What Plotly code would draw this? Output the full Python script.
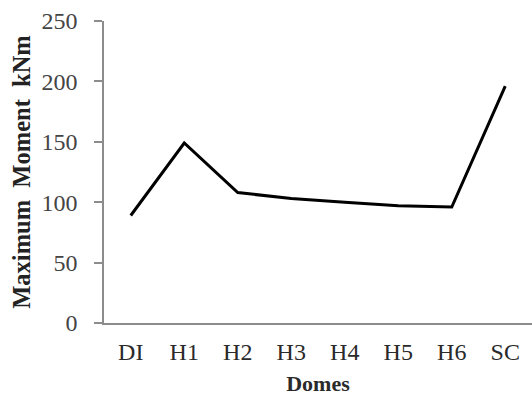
import plotly.graph_objects as go

# Maximum bending moment for each dome configuration
domes = ["DI", "H1", "H2", "H3", "H4", "H5", "H6", "SC"]
max_moment_knm = [89, 149, 108, 103, 100, 97, 96, 196]

y_ticks = [0, 50, 100, 150, 200, 250]

fig = go.Figure(
    go.Scatter(
        x=domes,
        y=max_moment_knm,
        mode="lines",
        line=dict(color="#000000", width=3),
        showlegend=False,
    )
)

font_family = "Liberation Serif"

fig.update_layout(
    width=532,
    height=396,
    margin=dict(l=104, r=0, t=21, b=73),
    paper_bgcolor="white",
    plot_bgcolor="white",
    font=dict(family=font_family, color="#333333"),
)

fig.update_xaxes(
    type="category",
    range=[-0.5, 7.5],
    showline=True,
    linecolor="#8c8c8c",
    linewidth=1.5,
    showgrid=False,
    ticks="",
    tickfont=dict(family=font_family, size=24, color="#2a2a2a"),
    ticklabelstandoff=6,
    title=dict(text="<b>Domes</b>", font=dict(family=font_family, size=22, color="#2a2a2a"), standoff=12),
)

fig.update_yaxes(
    range=[0, 250],
    tickvals=y_ticks,
    showline=True,
    linecolor="#8c8c8c",
    linewidth=1.5,
    showgrid=False,
    zeroline=False,
    ticks="outside",
    ticklen=8,
    tickwidth=1.5,
    tickcolor="#8c8c8c",
    tickfont=dict(family=font_family, size=24, color="#444444"),
    ticklabelstandoff=12,
    title=dict(
        text="<b>Maximum  Moment  kNm</b>",
        font=dict(family=font_family, size=24.5, color="#222222"),
        standoff=4,
    ),
)

fig.write_html("out.html")
